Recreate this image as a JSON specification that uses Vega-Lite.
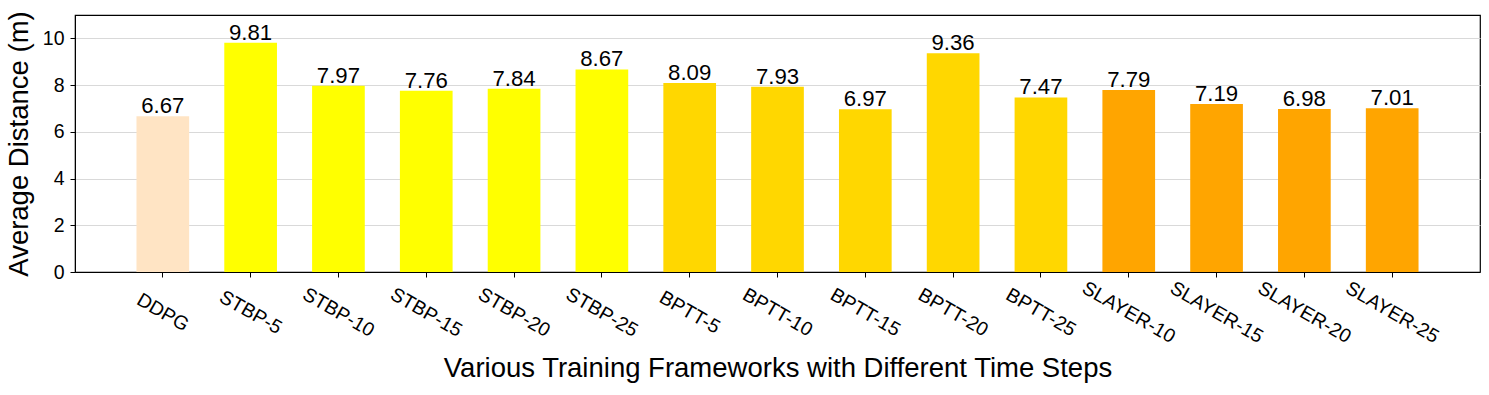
{
  "$schema": "https://vega.github.io/schema/vega-lite/v6.json",
  "width": 1405,
  "height": 257,
  "autosize": {"type": "none"},
  "padding": {"left": 75, "top": 15, "right": 9, "bottom": 123},
  "background": "white",
  "config": {
    "font": "Liberation Sans",
    "view": {"stroke": "black", "strokeWidth": 1.2},
    "axis": {
      "domainColor": "black",
      "tickColor": "black",
      "labelColor": "black",
      "titleColor": "black",
      "titleFontWeight": "normal",
      "tickSize": 5,
      "labelFontSize": 19.5,
      "titleFontSize": 27.5
    }
  },
  "data": {
    "values": [
      {"method": "DDPG", "group": "DDPG", "distance": 6.67},
      {"method": "STBP-5", "group": "STBP", "distance": 9.81},
      {"method": "STBP-10", "group": "STBP", "distance": 7.97},
      {"method": "STBP-15", "group": "STBP", "distance": 7.76},
      {"method": "STBP-20", "group": "STBP", "distance": 7.84},
      {"method": "STBP-25", "group": "STBP", "distance": 8.67},
      {"method": "BPTT-5", "group": "BPTT", "distance": 8.09},
      {"method": "BPTT-10", "group": "BPTT", "distance": 7.93},
      {"method": "BPTT-15", "group": "BPTT", "distance": 6.97},
      {"method": "BPTT-20", "group": "BPTT", "distance": 9.36},
      {"method": "BPTT-25", "group": "BPTT", "distance": 7.47},
      {"method": "SLAYER-10", "group": "SLAYER", "distance": 7.79},
      {"method": "SLAYER-15", "group": "SLAYER", "distance": 7.19},
      {"method": "SLAYER-20", "group": "SLAYER", "distance": 6.98},
      {"method": "SLAYER-25", "group": "SLAYER", "distance": 7.01}
    ]
  },
  "encoding": {
    "x": {
      "field": "method",
      "type": "nominal",
      "sort": null,
      "scale": {"paddingInner": 0.4, "paddingOuter": 0.7},
      "axis": {
        "title": "Various Training Frameworks with Different Time Steps",
        "labelAngle": 30,
        "labelAlign": "center",
        "labelBaseline": "middle",
        "labelPadding": 35,
        "labelOverlap": false,
        "labelLimit": 0,
        "titlePadding": 8,
        "encode": {
          "labels": {
            "enter": {
              "dx": {"signal": "(length(datum.label) - 7.2) * 1.425"},
              "dy": {"signal": "(length(datum.label) - 7.2) * 2.47"}
            },
            "update": {
              "dx": {"signal": "(length(datum.label) - 7.2) * 1.425"},
              "dy": {"signal": "(length(datum.label) - 7.2) * 2.47"}
            }
          }
        }
      }
    }
  },
  "layer": [
    {
      "mark": {"type": "bar"},
      "encoding": {
        "y": {
          "field": "distance",
          "type": "quantitative",
          "scale": {"domain": [0, 11], "nice": false},
          "axis": {
            "title": "Average Distance (m)",
            "values": [0, 2, 4, 6, 8, 10],
            "grid": true,
            "gridColor": "#d9d9d9",
            "gridWidth": 1,
            "labelPadding": 6,
            "titlePadding": 9
          }
        },
        "color": {
          "field": "group",
          "type": "nominal",
          "scale": {
            "domain": ["DDPG", "STBP", "BPTT", "SLAYER"],
            "range": ["#FFE4C4", "#FFFF00", "#FFD700", "#FFA500"]
          },
          "legend": null
        }
      }
    },
    {
      "mark": {"type": "text", "baseline": "alphabetic", "dy": -3, "fontSize": 22.2, "color": "black"},
      "encoding": {
        "y": {"field": "distance", "type": "quantitative"},
        "text": {"field": "distance", "type": "quantitative", "format": ".2f"}
      }
    }
  ]
}
